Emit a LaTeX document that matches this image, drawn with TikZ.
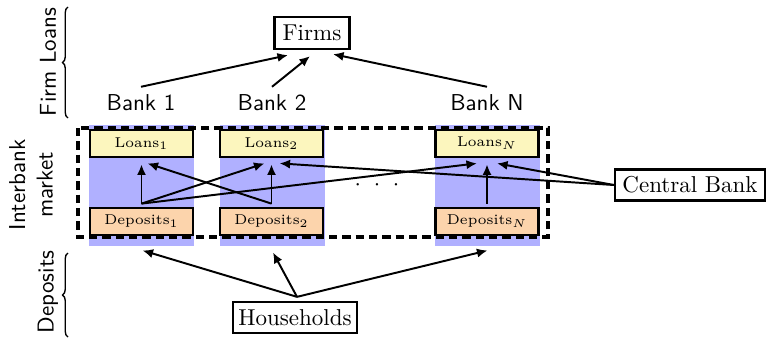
\documentclass[tikz,border=0pt]{standalone}
\usetikzlibrary{arrows.meta,calc,decorations.pathreplacing}
\definecolor{colblue}{RGB}{176,176,255}
\definecolor{loanfill}{RGB}{252,246,190}
\definecolor{depfill}{RGB}{252,212,172}
\newcommand\pxl{0.435pt}
\begin{document}
\begin{tikzpicture}[x=0.435pt,y=-0.435pt,
  arr/.style={-{Latex[length=4.6pt,width=4pt]},line width=0.85pt},
  lbox/.style={draw,line width=1pt,fill=white,inner sep=2pt},
  col/.style={fill=colblue,draw=none,minimum width=105*\pxl,minimum height=121*\pxl,inner sep=0pt},
  acct/.style={draw,line width=1.2pt,minimum width=103*\pxl,minimum height=27*\pxl,inner sep=0pt,font=\fontsize{6.2}{7}\selectfont},
  bank/.style={font=\sffamily},
  brace/.style={decorate,decoration={brace,amplitude=2.4pt},line width=0.6pt},
  side/.style={font=\sffamily,rotate=90,align=center}]

\useasboundingbox (0,0) rectangle (766,341);

% bank columns
\node[col] (col1) at (141.5,185.5) {};
\node[col] (col2) at (272,185.5) {};
\node[col] (colN) at (487.5,185.5) {};

% interbank market frame
\draw[line width=1.6pt,dash pattern=on 3.6pt off 2.2pt] (78,128) rectangle (548,237);

% balance sheet items
\node[acct,fill=loanfill] (l1) at (141.5,143.5) {Loans$_1$};
\node[acct,fill=depfill]  (d1) at (141.5,221.5) {Deposits$_1$};
\node[acct,fill=loanfill] (l2) at (271.5,143.5) {Loans$_2$};
\node[acct,fill=depfill]  (d2) at (271.5,221.5) {Deposits$_2$};
\node[acct,fill=loanfill] (lN) at (487,143.5) {Loans$_N$};
\node[acct,fill=depfill]  (dN) at (487,221.5) {Deposits$_N$};

\node (dots) at (377,185) {$\cdot\ \cdot\ \cdot$};

% agents
\node[lbox,minimum width=75*\pxl,minimum height=32*\pxl] (firms) at (312,33) {Firms};
\node[lbox,minimum width=150*\pxl,minimum height=31*\pxl] (cb) at (690,185) {Central Bank};
\node[lbox,minimum width=124*\pxl,minimum height=31*\pxl] (hh) at (295,317.5) {Households};

\node[bank] (b1) at (141,103) {Bank 1};
\node[bank] (b2) at (272,103) {Bank 2};
\node[bank] (bN) at (487,103) {Bank N};

% firm loans
\draw[arr] (b1.north) -- ($(firms.south)+(-24,5)$);
\draw[arr] (b2.north) -- ($(firms.south)+(-2,6)$);
\draw[arr] (bN.north) -- ($(firms.south)+(21,4)$);

% interbank lending
\draw[arr] ($(d1.north)+(0,-3)$) -- ($(l1.south)+(0,6)$);
\draw[arr] ($(d1.north)+(0,-3)$) -- ($(l2.south)+(-7,5)$);
\draw[arr] ($(d1.north)+(0,-3)$) -- ($(lN.south)+(-10,5)$);
\draw[arr] ($(d2.north)+(0,-3)$) -- ($(l2.south)+(0,6)$);
\draw[arr] ($(d2.north)+(0,-3)$) -- ($(l1.south)+(6,5)$);
\draw[arr] ($(dN.north)+(0,-3)$) -- ($(lN.south)+(0,6)$);
\draw[arr] (cb.west) -- ($(l2.south)+(8,5)$);
\draw[arr] (cb.west) -- ($(lN.south)+(10,5)$);

% deposits
\draw[arr] ($(hh.north)+(2,-4)$) -- ($(col1.south)+(1,4)$);
\draw[arr] ($(hh.north)+(2,-4)$) -- ($(col2.south)+(1,6)$);
\draw[arr] ($(hh.north)+(2,-4)$) -- ($(colN.south)+(0,4)$);

% side labels
\draw[brace] (68,118) -- (68,7);
\node[side] (fl) at (48,62) {Firm Loans};
\draw[brace] (68,337) -- (68,253);
\node[side] (dl) at (48,292) {Deposits};
\node[side] (im) at (31,185) {Interbank\\market};
\end{tikzpicture}
\end{document}
